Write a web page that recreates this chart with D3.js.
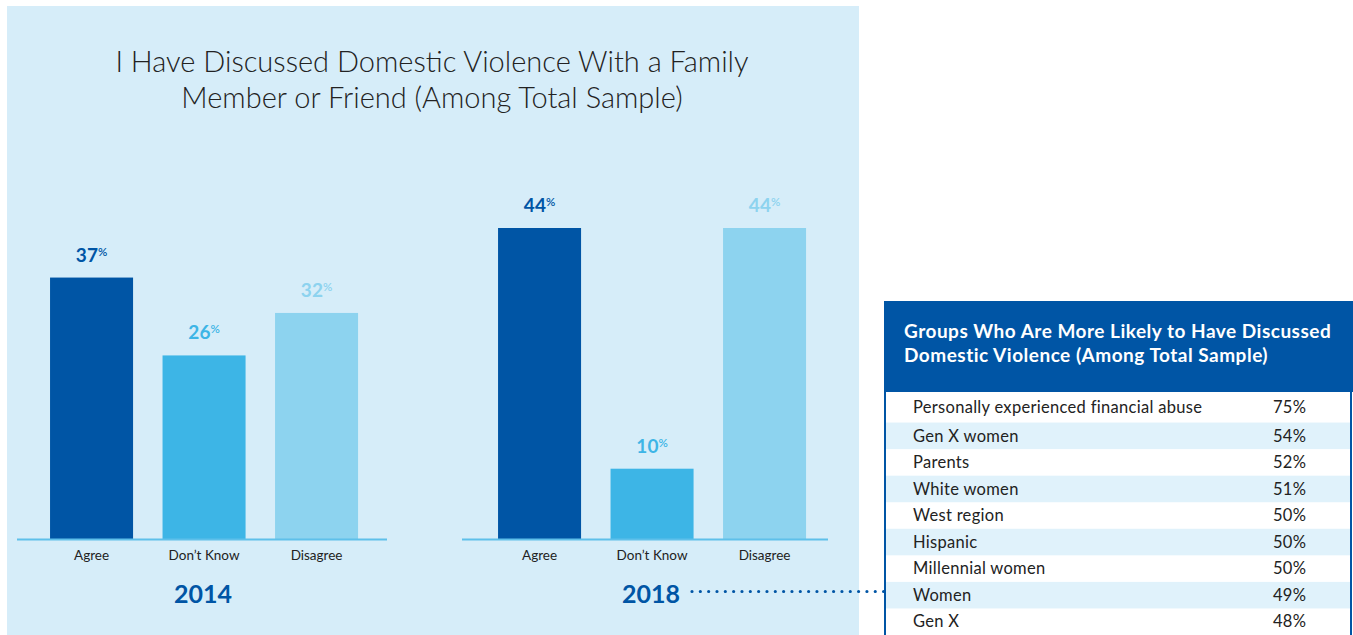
<!DOCTYPE html>
<html>
<head>
<meta charset="utf-8">
<script src="https://cdn.jsdelivr.net/npm/d3@7"></script>
<style>
  html, body { margin: 0; padding: 0; background: #ffffff; }
  svg { display: block; }
  text { font-family: Lato, "Open Sans", sans-serif; }
</style>
</head>
<body>
<svg id="chart" width="1353" height="635"></svg>
<script>
// ---- Data ----
const titleLines = ["I Have Discussed Domestic Violence With a Family", "Member or Friend (Among Total Sample)"];
const categories = ["Agree", "Don\u2019t Know", "Disagree"];
const years = ["2014", "2018"];
const values2014 = [37, 26, 32];
const values2018 = [44, 10, 44];
const tableTitle = ["Groups Who Are More Likely to Have Discussed", "Domestic Violence (Among Total Sample)"];
const groups = ["Personally experienced financial abuse", "Gen X women", "Parents", "White women", "West region", "Hispanic", "Millennial women", "Women", "Gen X"];
const groupValues = [75, 54, 52, 51, 50, 50, 50, 49, 48];

// ---- Styles ----
const barColors = ["#0055a5", "#3db5e6", "#8dd3ef"];
const darkBlue = "#0055a5";
const panelColor = "#d6edf9";
const stripeColor = "#e0f2fb";
const textColor = "#222222";

const svg = d3.select("#chart");

// Panel
svg.append("rect").attr("x", 7).attr("y", 6).attr("width", 852).attr("height", 640).attr("fill", panelColor);

// Title
svg.append("g").selectAll("text").data(titleLines).join("text")
  .attr("x", 432).attr("y", (d, i) => 72 + i * 36)
  .attr("text-anchor", "middle")
  .attr("font-size", 29).attr("font-weight", 300)
  .attr("fill", textColor)
  .text(d => d);

// Bar charts
const baseline = 539.5;
const y = d3.scaleLinear().domain([0, 44]).range([baseline, 228]);
const panels = [
  { year: years[0], values: values2014, range: [35.3, 372.8], line: [17, 387] },
  { year: years[1], values: values2018, range: [483.3, 820.8], line: [462, 828] }
];

panels.forEach(p => {
  const x = d3.scaleBand().domain(categories).range(p.range).paddingInner(0.262).paddingOuter(0.131);
  const g = svg.append("g");
  const data = categories.map((c, i) => ({ c, v: p.values[i], i }));

  g.selectAll("rect.bar").data(data).join("rect")
    .attr("class", "bar")
    .attr("x", d => x(d.c)).attr("width", x.bandwidth())
    .attr("y", d => y(d.v)).attr("height", d => baseline - y(d.v))
    .attr("fill", d => barColors[d.i]);

  // baseline axis
  const axis = d3.axisBottom(x).tickSize(0).tickPadding(11);
  const ag = g.append("g").attr("transform", `translate(0,${baseline})`).call(axis);
  ag.select(".domain").remove();
  ag.append("line").attr("x1", p.line[0]).attr("x2", p.line[1]).attr("y1", 0).attr("y2", 0)
    .attr("stroke", "#5ec0ea").attr("stroke-width", 2);
  ag.selectAll(".tick text")
    .attr("font-family", "Lato, 'Open Sans', sans-serif")
    .attr("font-size", 13.5).attr("fill", textColor);

  // value labels
  const lbl = g.selectAll("text.val").data(data).join("text")
    .attr("class", "val")
    .attr("x", d => x(d.c) + x.bandwidth() / 2)
    .attr("y", d => y(d.v) - 16)
    .attr("text-anchor", "middle")
    .attr("fill", d => barColors[d.i])
    .attr("font-weight", 700);
  lbl.append("tspan").attr("font-size", 19).text(d => d.v);
  lbl.append("tspan").attr("font-size", 11.5).attr("font-weight", 600).attr("dy", -6).text("%");

  // year label
  g.append("text")
    .attr("x", (p.range[0] + p.range[1]) / 2 - 1)
    .attr("y", 603)
    .attr("text-anchor", "middle")
    .attr("font-size", 25).attr("font-weight", 700)
    .attr("fill", darkBlue)
    .text(p.year);
});

// Dotted connector
svg.append("line")
  .attr("x1", 692).attr("x2", 884).attr("y1", 591.5).attr("y2", 591.5)
  .attr("stroke", darkBlue).attr("stroke-width", 3.2)
  .attr("stroke-linecap", "round").attr("stroke-dasharray", "0 8.33");

// Table
const tg = svg.append("g");
tg.append("rect").attr("x", 884).attr("y", 301).attr("width", 469).attr("height", 91).attr("fill", darkBlue);
tg.selectAll("text.th").data(tableTitle).join("text")
  .attr("class", "th")
  .attr("x", 904).attr("y", (d, i) => 338 + i * 24)
  .attr("font-size", 19).attr("font-weight", 700).attr("letter-spacing", 0.5).attr("fill", "#ffffff")
  .text(d => d);

tg.append("rect").attr("x", 886).attr("y", 392).attr("width", 464).attr("height", 243).attr("fill", "#ffffff");
const ry = d3.scaleBand().domain(groups).range([396, 635]);
const rows = tg.selectAll("g.row").data(groups.map((g, i) => ({ g, v: groupValues[i], i }))).join("g").attr("class", "row");
rows.filter(d => d.i % 2 === 1).append("rect")
  .attr("x", 886).attr("width", 464)
  .attr("y", d => ry(d.g)).attr("height", ry.bandwidth())
  .attr("fill", stripeColor);
rows.append("text")
  .attr("x", 913).attr("y", d => ry(d.g) + ry.bandwidth() / 2 + (d.i === 0 ? -2 : 0))
  .attr("dy", "0.35em")
  .attr("font-size", 16.5).attr("letter-spacing", 0.3).attr("fill", textColor)
  .text(d => d.g);
rows.append("text")
  .attr("x", 1273).attr("y", d => ry(d.g) + ry.bandwidth() / 2 + (d.i === 0 ? -2 : 0))
  .attr("dy", "0.35em")
  .attr("font-size", 16.5).attr("letter-spacing", 0.3).attr("fill", textColor)
  .text(d => d.v + "%");
tg.append("line").attr("x1", 885).attr("x2", 885).attr("y1", 392).attr("y2", 635).attr("stroke", darkBlue).attr("stroke-width", 2);
tg.append("line").attr("x1", 1351).attr("x2", 1351).attr("y1", 392).attr("y2", 635).attr("stroke", darkBlue).attr("stroke-width", 2);
</script>
</body>
</html>
